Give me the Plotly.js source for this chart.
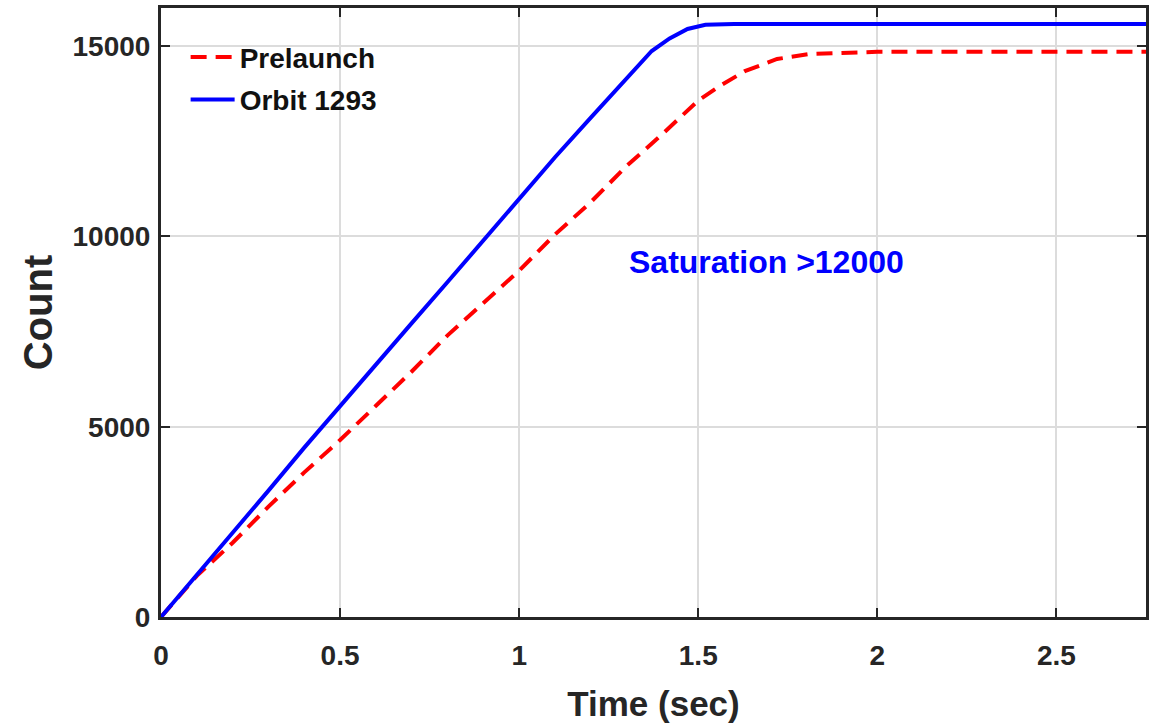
<!DOCTYPE html>
<html>
<head>
<meta charset="utf-8">
<script src="https://cdn.plot.ly/plotly-3.0.1.min.js"></script>
<style>html,body{margin:0;padding:0;background:#fff;}#chart{width:1158px;height:728px;}</style>
</head>
<body>
<div id="chart"></div>
<script>
// Prelaunch (red dashed)
const prelaunchTime  = [0, 0.05, 0.1, 0.2, 0.3, 0.4, 0.5, 0.6, 0.7, 0.8, 0.9, 1.0, 1.1, 1.2, 1.3, 1.4, 1.5, 1.56, 1.63, 1.72, 1.81, 1.9, 2.0, 2.3, 2.75];
const prelaunchCount = [0, 560, 1080, 1950, 2900, 3800, 4650, 5550, 6450, 7400, 8250, 9100, 10050, 10900, 11850, 12690, 13570, 13950, 14340, 14660, 14790, 14830, 14850, 14850, 14850];
// Orbit 1293 (blue solid)
const orbitTime  = [0, 0.1, 0.2, 0.3, 0.4, 0.5, 0.6, 0.7, 0.8, 0.9, 1.0, 1.1, 1.2, 1.3, 1.37, 1.42, 1.47, 1.52, 1.56, 1.6, 2.0, 2.5, 2.75];
const orbitCount = [0, 1100, 2200, 3320, 4450, 5550, 6630, 7720, 8800, 9900, 11000, 12080, 13120, 14130, 14870, 15200, 15450, 15560, 15580, 15580, 15580, 15580, 15580];
const xTicks = [0, 0.5, 1, 1.5, 2, 2.5];
const yTicks = [0, 5000, 10000, 15000];
const annotationText = 'Saturation >12000';
const annotationPos = [1.69, 9340];

const axisColor = '#262626';
const fontFam = 'Liberation Sans, Arial, sans-serif';

const traces = [
  {x: prelaunchTime, y: prelaunchCount, type: 'scatter', mode: 'lines', name: 'Prelaunch',
   legendgroup: 'a', line: {color: '#ff0000', width: 4, dash: '16px,9px'}},
  {x: orbitTime, y: orbitCount, type: 'scatter', mode: 'lines', name: 'Orbit 1293',
   legendgroup: 'b', line: {color: '#0000ff', width: 4}}
];

const layout = {
  width: 1158, height: 728,
  margin: {l: 161, r: 12, t: 8, b: 111},
  paper_bgcolor: '#ffffff', plot_bgcolor: '#ffffff',
  showlegend: true,
  font: {family: fontFam, color: axisColor},
  xaxis: {
    range: [0, 2.75], tickvals: xTicks, ticktext: xTicks.map(String),
    showgrid: true, gridcolor: '#dcdcdc', gridwidth: 2,
    zeroline: false, showline: true, linecolor: axisColor, linewidth: 3, mirror: 'ticks',
    ticks: 'inside', ticklen: 9, tickwidth: 2, tickcolor: axisColor,
    ticklabelstandoff: 11,
    tickfont: {size: 28, family: fontFam, color: axisColor, weight: 'bold'},
    title: {text: '<b>Time (sec)</b>', font: {size: 35, family: fontFam, color: axisColor}, standoff: 22}
  },
  yaxis: {
    range: [0, 16000], tickvals: yTicks, ticktext: yTicks.map(String),
    showgrid: true, gridcolor: '#dcdcdc', gridwidth: 2,
    zeroline: false, showline: true, linecolor: axisColor, linewidth: 3, mirror: 'ticks',
    ticks: 'inside', ticklen: 9, tickwidth: 2, tickcolor: axisColor,
    ticklabelstandoff: 2,
    tickfont: {size: 28, family: fontFam, color: axisColor, weight: 'bold'},
    title: {text: '<b>Count</b>', font: {size: 40, family: fontFam, color: axisColor}, standoff: 8}
  },
  legend: {
    x: 0.025, y: 0.96, xanchor: 'left', yanchor: 'top',
    bgcolor: 'rgba(0,0,0,0)', borderwidth: 0,
    font: {size: 28, family: fontFam, color: '#111111', weight: 'bold'},
    tracegroupgap: 3, itemwidth: 44
  },
  annotations: [{
    x: annotationPos[0], y: annotationPos[1], xref: 'x', yref: 'y',
    text: '<b>' + annotationText + '</b>', showarrow: false,
    font: {size: 32, family: fontFam, color: '#0000ff'}
  }]
};

Plotly.newPlot('chart', traces, layout, {displayModeBar: false, staticPlot: true});
</script>
</body>
</html>
